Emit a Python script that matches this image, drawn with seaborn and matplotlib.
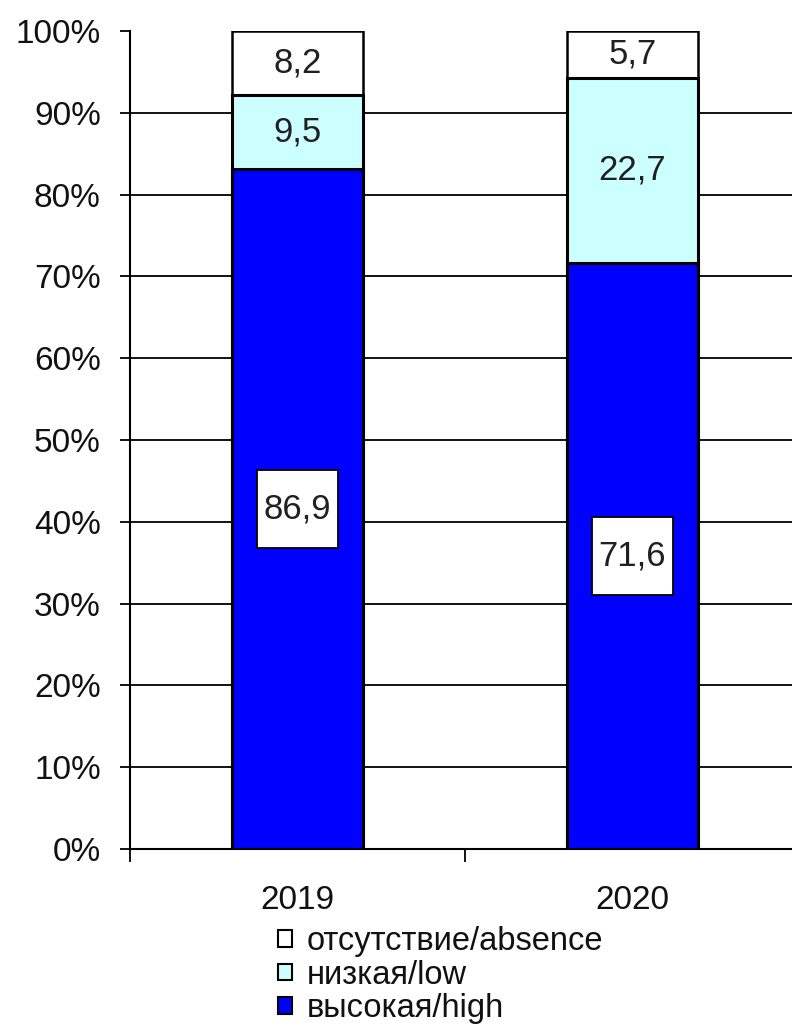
import numpy as np
import pandas as pd
import seaborn as sns
import matplotlib
matplotlib.use("Agg")
import matplotlib.pyplot as plt
from matplotlib.path import Path
from matplotlib.patches import Patch

years = ["2019", "2020"]
high = [86.9, 71.6]
low = [9.5, 22.7]
absence = [8.2, 5.7]
tick_labels = ["0%", "10%", "20%", "30%", "40%", "50%", "60%", "70%", "80%", "90%", "100%"]
legend_labels = ["отсутствие/absence", "низкая/low", "высокая/high"]

c_high = "#0000FF"
c_low = "#CCFFFF"
c_abs = "#FFFFFF"

sns.set_theme(style="white")
plt.rcParams["font.family"] = ["Liberation Sans", "DejaVu Sans"]

df = pd.DataFrame({"year": years, "high": high, "low": low, "absence": absence})
total = df[["high", "low", "absence"]].sum(axis=1)
df["p_high"] = df["high"] / total * 100
df["p_low"] = df["low"] / total * 100
df["p_abs"] = df["absence"] / total * 100
df["top_low"] = df["p_high"] + df["p_low"]
df["top_abs"] = df["top_low"] + df["p_abs"]

fig = plt.figure(figsize=(7.92, 10.30), dpi=100)
ax = fig.add_axes([130 / 792, 1 - 849 / 1030, 670 / 792, 818 / 1030])

bw = 0.394
kw = dict(ax=ax, width=bw, edgecolor="black", saturation=1, zorder=3)
# stacked segments: draw cumulative tops from the outermost down
sns.barplot(data=df, x="year", y="top_abs", color=c_abs, linewidth=1.8, **kw)
sns.barplot(data=df, x="year", y="top_low", color=c_low, linewidth=2.2, **kw)
sns.barplot(data=df, x="year", y="p_high", color=c_high, linewidth=2.2, **kw)

ax.set_xlim(-0.5, 1.5)
ax.set_ylim(0, 100)
ax.set_xlabel("")
ax.set_ylabel("")

# horizontal gridlines at 10..90 %
for v in range(10, 100, 10):
    ax.axhline(v, color="black", linewidth=1.3, zorder=1)

ax.set_yticks(np.arange(0, 101, 10))
ax.set_yticklabels(tick_labels)
ax.tick_params(axis="y", direction="out", length=7, width=1.3, color="black",
               pad=14, labelsize=24, left=True, labelcolor="#111111")
ax.set_xticks([0, 1])
ax.set_xticklabels(years)
ax.set_xticks([-0.5, 0.5, 1.5], minor=True)
ax.tick_params(axis="x", which="major", length=0, pad=26, labelsize=24, labelcolor="#111111")
ax.tick_params(axis="x", which="minor", direction="out", length=9, width=1.3,
               color="black", bottom=True)

for s in ["top", "right"]:
    ax.spines[s].set_visible(False)
for s in ["left", "bottom"]:
    ax.spines[s].set_visible(True)
    ax.spines[s].set_color("black")
    ax.spines[s].set_linewidth(1.5)
ax.spines["bottom"].set_zorder(5)


def label_box(x0, y0, width, height, mutation_size):
    px = 0.2 * mutation_size
    py = 0.65 * mutation_size
    x0, y0 = x0 - px, y0 - py
    x1, y1 = x0 + width + 2 * px, y0 + height + 2 * py
    return Path([(x0, y0), (x1, y0), (x1, y1), (x0, y1), (x0, y0)], closed=True)


fmt = lambda v: f"{v:.1f}".replace(".", ",")
for i, row in df.iterrows():
    ax.text(i, row["p_high"] / 2, fmt(row["high"]), ha="center", va="center",
            fontsize=25, color="#202020", zorder=6,
            bbox=dict(boxstyle=label_box, fc="white", ec="black", lw=1.3))
    ax.text(i, row["p_high"] + row["p_low"] / 2, fmt(row["low"]), ha="center",
            va="center", fontsize=25, color="#202020", zorder=6)
    ax.text(i, row["top_low"] + row["p_abs"] / 2, fmt(row["absence"]), ha="center",
            va="center", fontsize=25, color="#202020", zorder=6)

handles = [Patch(fc=c_abs, ec="black", lw=1.5),
           Patch(fc=c_low, ec="black", lw=1.5),
           Patch(fc=c_high, ec="black", lw=1.5)]
fig.legend(handles, legend_labels, loc="upper left",
           bbox_to_anchor=(278 / 792, 1 - 926 / 1030),
           frameon=False, fontsize=23.5, handlelength=0.43, handleheight=0.42,
           handletextpad=0.45, labelspacing=0.08, borderpad=0, borderaxespad=0,
           labelcolor="#111111")

fig.savefig("out.png", dpi=100)
